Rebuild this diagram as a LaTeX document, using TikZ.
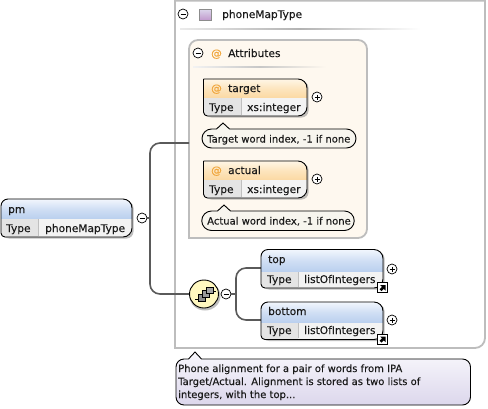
\documentclass[tikz,border=0pt]{standalone}
\usepackage{fontspec}
\setmainfont{DejaVu Sans}[RawFeature={embolden=0.2}]
\usetikzlibrary{calc}
\definecolor{ink}{HTML}{1A1A1A}
\definecolor{frame}{HTML}{BDBDBD}
\definecolor{conncol}{HTML}{5A5A5A}
\definecolor{blueA}{HTML}{F2F6FD}
\definecolor{blueB}{HTML}{B9CFEE}
\definecolor{orangeA}{HTML}{FFF6E6}
\definecolor{orangeB}{HTML}{FBD9A3}
\definecolor{cream}{HTML}{FEF8EF}
\definecolor{typecell}{HTML}{E4E4E4}
\definecolor{valcell}{HTML}{F3F3F3}
\definecolor{notefill}{HTML}{F7F5EE}
\definecolor{lavA}{HTML}{F8F7FC}
\definecolor{lavB}{HTML}{DCD7EC}
\definecolor{atcol}{HTML}{F0A63C}
\tikzset{
  conn/.style={draw=conncol,line width=1.6pt,rounded corners=10pt},
  toggle/.style={circle,draw=black,fill=white,line width=.7pt,minimum size=10pt,inner sep=0pt},
  minustoggle/.style={toggle,path picture={\draw[line width=.8pt] ($(path picture bounding box.center)+(-2.5,0)$) -- ($(path picture bounding box.center)+(2.5,0)$);}},
  plustoggle/.style={toggle,path picture={\draw[line width=.8pt] ($(path picture bounding box.center)+(-2.5,0)$) -- ($(path picture bounding box.center)+(2.5,0)$) ($(path picture bounding box.center)+(0,-2.5)$) -- ($(path picture bounding box.center)+(0,2.5)$);}},
  lab/.style={anchor=base west,inner sep=0pt,text=ink,font=\fontsize{10.6}{12}\selectfont},
  notetext/.style={anchor=base west,inner sep=0pt,text=ink,font=\fontsize{10}{12}\selectfont},
}
% name, x1,y1,x2,y2, ydiv, colA, colB, top-left radius
\newcommand{\entrybox}[9]{%
  \coordinate (#1-nw) at (#2,#3);
  \fill[black!45,opacity=.55,rounded corners=7pt] (#2+1,#3+2) rectangle (#4+1.5,#5+1.5);
  \def\tl{#9}%
  \path[draw=none,top color=#7,bottom color=#8,middle color=#8!60!#7] (#2,#6)
    [rounded corners=\tl pt] -- (#2,#3) [rounded corners=9pt] -- (#4,#3) [sharp corners] -- (#4,#6) -- cycle;
  \fill[valcell,rounded corners=8pt] (#4,#6) -- (#4,#5) [rounded corners=4pt] -- (#2,#5) [sharp corners] -- (#2,#6) -- cycle;
  \fill[typecell,rounded corners=4pt] (\xdiv,#6) [sharp corners] -- (\xdiv,#5) [rounded corners=4pt] -- (#2,#5) [sharp corners] -- (#2,#6) -- cycle;
  \draw[black,line width=.9pt] (#2,#6) [rounded corners=\tl pt] -- (#2,#3) [rounded corners=9pt] -- (#4,#3) -- (#4,#5) [rounded corners=4pt] -- (#2,#5) [sharp corners] -- cycle;
}
\newcommand{\notebox}[6]{% name x1 y1 x2 y2 tipx
  \path[draw=black,line width=.9pt,fill=notefill] (#2+8,#3)
    -- (#6-6.5,#3) -- (#6,#3-6) -- (#6+6.5,#3) -- (#4-8,#3)
    arc[start angle=90,end angle=-90,radius=(#5-#3)/2*1pt] -- (#2+8,#5)
    arc[start angle=270,end angle=90,radius=(#5-#3)/2*1pt] -- cycle;
}
\begin{document}
\begin{tikzpicture}[x=1pt,y=-1pt]
\useasboundingbox (0,0) rectangle (488,408);
\fill[white] (0,0) rectangle (488,408);

% outer type frame
\draw[frame,line width=1.8pt] (175,0.6) [sharp corners] -- (175,348) [rounded corners=10pt] -- (485,348) [sharp corners] -- (485,0.6) -- cycle;
\node[minustoggle] (typeminus) at (183,14) {};
\draw[draw=black!45,line width=.7pt,left color=white,right color=lavB!85!blue,top color=lavB,bottom color=lavB!70!violet] (199.5,9) rectangle (211,20.5);
\node[lab] (typetitle) at (222,18) {phoneMapType};
\fill[left color=black!8,right color=white,middle color=black!30] (180,28.5) rectangle (420,29.8);

% attributes group
\draw[draw=frame,fill=cream,line width=1.8pt,rounded corners=9pt] (189,40) [sharp corners] -- (189,238) [rounded corners=9pt] -- (367,238) -- (367,40) -- cycle;
\coordinate (attrjoin) at (189,143);
\node[minustoggle] (attrminus) at (198,53) {};
\node[lab,text=atcol] (attrat) at (211,57) {@};
\node[lab] (attrtitle) at (228,57) {Attributes};
\fill[left color=black!5,right color=cream,middle color=black!22] (193,66) rectangle (326,67.2);

% target
\def\xdiv{241}
\entrybox{target}{203.5}{79}{307}{116}{98}{orangeA}{orangeB}{0.5}
\draw[black!25,line width=.5pt] (\xdiv,98) -- (\xdiv,115);
\node[lab,text=atcol] (targetat) at (211,92) {@};
\node[lab] (targetname) at (228,92) {target};
\node[lab] (targettype) at (209,111) {Type};
\node[lab] (targetval) at (247,111) {xs:integer};
\node[plustoggle] (targetplus) at (317,97) {};
\notebox{targetnote}{203.5}{129}{354.5}{148}{223}
\node[notetext] (targetdoc) at (207,142.5) {Target word index, -1 if none};

% actual
\entrybox{actual}{203.5}{161}{307}{198}{180}{orangeA}{orangeB}{0.5}
\draw[black!25,line width=.5pt] (\xdiv,180) -- (\xdiv,197);
\node[lab,text=atcol] (actualat) at (211,174) {@};
\node[lab] (actualname) at (228,174) {actual};
\node[lab] (actualtype) at (209,193) {Type};
\node[lab] (actualval) at (247,193) {xs:integer};
\node[plustoggle] (actualplus) at (317,179) {};
\notebox{actualnote}{203.5}{211}{352.5}{230.5}{224}
\node[notetext] (actualdoc) at (207,224.5) {Actual word index, -1 if none};

% connectors
\node[minustoggle] (pmminus) at (142,218) {};
\coordinate (trunk) at (150,218);
\node[circle,minimum size=28pt,inner sep=0pt] (seq) at (204,294) {};
\draw[conn] (attrjoin) -- (150,143) -- (150,294) -- (seq.west);
\draw[conncol,line width=1.6pt] (pmminus.east) -- (trunk);

% pm
\def\xdiv{38}
\entrybox{pm}{1}{199}{132}{237}{219}{blueA}{blueB}{7}
\draw[black!25,line width=.5pt] (\xdiv,219) -- (\xdiv,236);
\node[lab] (pmname) at (8,213) {pm};
\node[lab] (pmtype) at (6,232) {Type};
\node[lab] (pmval) at (45,232) {phoneMapType};

% sequence compositor
\fill[black!45,opacity=.55] (205,296) ellipse[x radius=15.5pt,y radius=14.5pt];
\draw[black,line width=.9pt,fill=yellow!22!white!97!orange] (204,294) ellipse[x radius=14.5pt,y radius=14pt];
\draw[black,line width=.8pt] (195,299) -- (201,299) (205,295) -- (209,295) (213,291)-- (216,291);
\draw[black,line width=.6pt,fill=black!45] (198,294.5) rectangle (205,301.5);
\draw[black,line width=.6pt,fill=black!40] (202,290.5) rectangle (209,297);
\draw[black,line width=.6pt,fill=black!35] (206.5,287) rectangle (213,293);
\node[minustoggle] (seqminus) at (226,294) {};
\coordinate (branch) at (236,294);
\draw[conncol,line width=1.6pt] (seqminus.east) -- (branch);

% top
\def\xdiv{298}
\coordinate (topjoin) at (261,268);
\coordinate (bottomjoin) at (261,320);
\draw[conn] (topjoin) -- (236,268) -- (236,320) -- (bottomjoin);
\entrybox{top}{261}{249.5}{383}{288}{272}{blueA}{blueB}{7}
\draw[black!25,line width=.5pt] (\xdiv,272) -- (\xdiv,287);
\node[lab] (topname) at (268,263) {top};
\node[lab] (toptype) at (267,283) {Type};
\node[lab] (topval) at (304,283) {listOfIntegers};
\node[plustoggle] (topplus) at (392,269) {};
\draw[black,line width=.9pt,fill=white] (377.5,282.5) rectangle (387.5,292.5);
\fill[black] (380,285) -- (385.5,285) -- (385.5,290.5) -- (383.8,288.8) -- (381.5,291) -- (379.7,289.2) -- (382,286.9) -- cycle;

% bottom
\entrybox{bottom}{261}{302}{383}{339.5}{323}{blueA}{blueB}{7}
\draw[black!25,line width=.5pt] (\xdiv,323) -- (\xdiv,338);
\node[lab] (bottomname) at (268,315) {bottom};
\node[lab] (bottomtype) at (267,334) {Type};
\node[lab] (bottomval) at (304,334) {listOfIntegers};
\node[plustoggle] (bottomplus) at (392,320) {};
\draw[black,line width=.9pt,fill=white] (377.5,334) rectangle (387.5,344);
\fill[black] (380,336.5) -- (385.5,336.5) -- (385.5,342) -- (383.8,340.3) -- (381.5,342.5) -- (379.7,340.7) -- (382,338.4) -- cycle;

% documentation
\path[draw=black,line width=.9pt,top color=lavA,bottom color=lavB] (184,359) -- (188.5,359) -- (195,352) -- (201.5,359)
  [rounded corners=8pt] -- (470.5,359) -- (470.5,405) -- (176,405) -- (176,359) [sharp corners] -- cycle;
\node[notetext] (doc1) at (178,372) {Phone alignment for a pair of words from IPA};
\node[notetext] (doc2) at (178,385) {Target/Actual. Alignment is stored as two lists of};
\node[notetext] (doc3) at (178,398) {integers, with the top...};
\end{tikzpicture}
\end{document}
